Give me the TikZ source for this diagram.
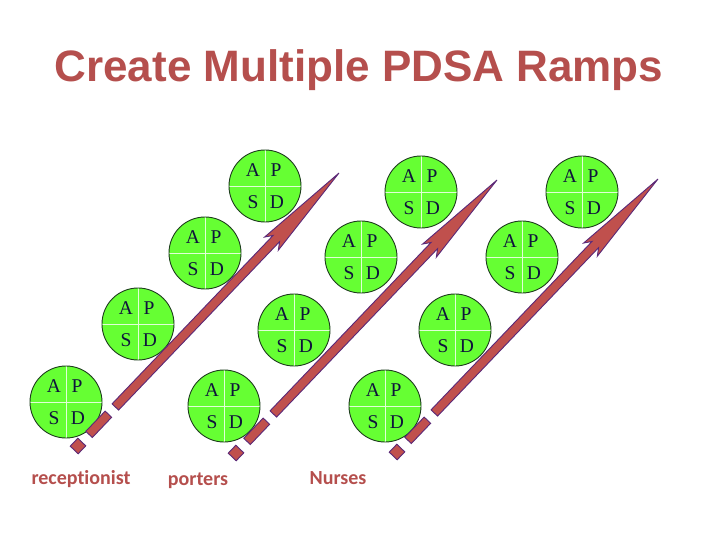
\documentclass[tikz,border=0pt]{standalone}
\usepackage{fontspec}
\setmainfont{Liberation Serif}
\newfontfamily\titlefont{Liberation Sans}
\newfontfamily\labelfont{Carlito}[Ligatures=NoCommon]
\usetikzlibrary{calc}
\definecolor{rampfill}{RGB}{192,80,77}
\definecolor{rampedge}{RGB}{90,40,120}
\definecolor{titlered}{RGB}{181,79,77}
\definecolor{pdsagreen}{RGB}{102,255,51}
\definecolor{pdsaedge}{RGB}{30,60,30}
\definecolor{divcol}{RGB}{225,255,215}
\definecolor{lettercol}{RGB}{15,20,60}
\tikzset{
  pdsacirc/.style={circle,minimum size=72pt,inner sep=0pt,fill=pdsagreen},
  pdsaring/.style={draw=pdsaedge,line width=0.9pt},
  divline/.style={draw=divcol,line width=0.9pt},
  letter/.style={inner sep=0pt,text=lettercol,font=\fontsize{19.5}{19.5}\selectfont},
  arrowpart/.style={fill=rampfill,draw=rampedge,line width=0.9pt,line join=miter},
  lbl/.style={anchor=base,text=titlered,font=\labelfont\bfseries\fontsize{20}{20}\selectfont},
  ttl/.style={anchor=base,text=titlered,font=\titlefont\bfseries\fontsize{44}{44}\selectfont}
}
\newcommand\pdsa[3]{%
  \node[pdsacirc] (#1) at (#2,#3) {};
  \draw[divline] (#1.north) -- (#1.south);
  \draw[divline] (#1.west) -- (#1.east);
  \draw[pdsaring] (#1) circle[radius=36pt];
  \node[letter] (#1a) at ($(#1)+(-12,-16)$) {A};
  \node[letter] (#1p) at ($(#1)+(11,-16)$) {P};
  \node[letter] (#1s) at ($(#1)+(-12,16)$) {S};
  \node[letter] (#1d) at ($(#1)+(12,16)$) {D};
}
\newcommand\ramparrow[2]{%
  \begin{scope}[shift={(#1,#2)},x={(0.691pt,0.7228pt)},y={(-0.7228pt,0.691pt)}]
    \draw[arrowpart] (-5.5,-5.5) -- (5.5,-5.5) -- (5.5,5.5) -- (-5.5,5.5) -- cycle;
    \draw[arrowpart] (16,-4.5) -- (44,-4.5) -- (44,4.5) -- (16,4.5) -- cycle;
    \draw[arrowpart] (54,-4.5) -- (287,-4.5) -- (280,-9.5) -- (377.7,0) -- (280,9.5) -- (287,4.5) -- (54,4.5) -- cycle;
  \end{scope}
}
\begin{document}
\begin{tikzpicture}[x=1pt,y=-1pt]
\useasboundingbox (0,0) rectangle (720,540);
\fill[white] (0,0) rectangle (720,540);
\node[ttl] (title) at (359,82) {Create Multiple PDSA Ramps};
% ramp 1
\pdsa{ra}{66}{402}
\pdsa{rb}{138}{324}
\pdsa{rc}{205}{253}
\pdsa{rd}{265}{186}
% ramp 2
\pdsa{pa}{224}{406}
\pdsa{pb}{294}{330}
\pdsa{pc}{361}{257}
\pdsa{pd}{421}{192}
% ramp 3
\pdsa{na}{385}{406}
\pdsa{nb}{455}{330}
\pdsa{nc}{522}{257}
\pdsa{nd}{582}{192}
% arrows
\ramparrow{78}{446}
\ramparrow{236}{453}
\ramparrow{397}{452}
% labels
\node[lbl] (l1) at (81,484) {receptionist};
\node[lbl] (l2) at (198,485) {porters};
\node[lbl] (l3) at (338,484) {Nurses};
\end{tikzpicture}
\end{document}
